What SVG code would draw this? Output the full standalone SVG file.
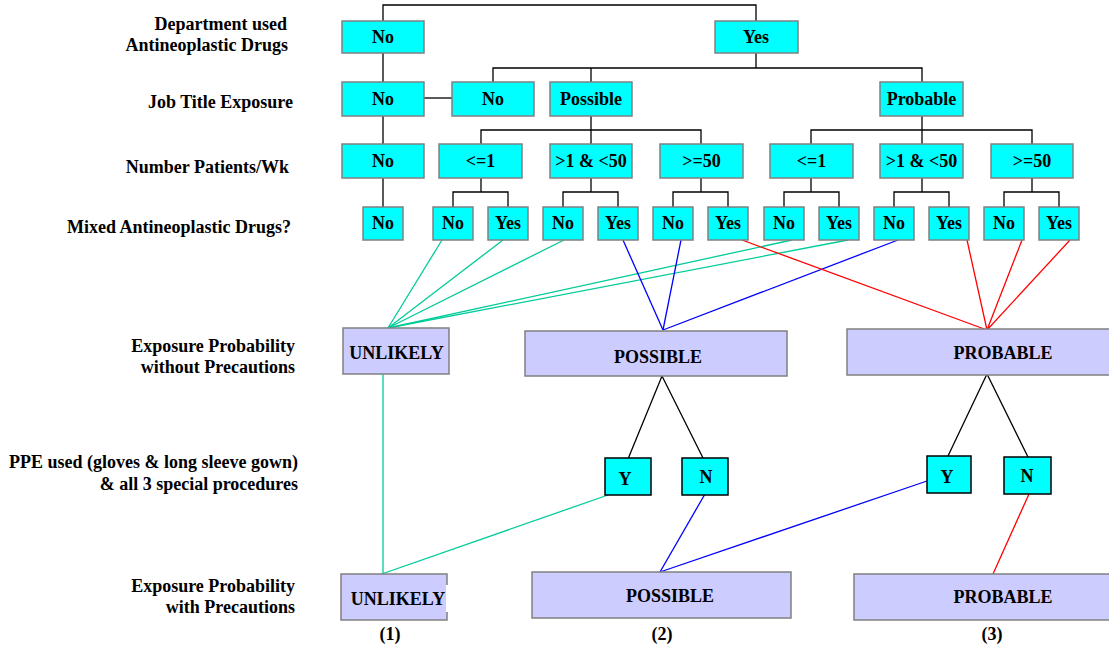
<svg xmlns="http://www.w3.org/2000/svg" width="1109" height="650" viewBox="0 0 1109 650">
<style>
text{font-family:"Liberation Serif","Times New Roman",serif;font-weight:bold;font-size:18px;fill:#000}
.lab{text-anchor:end}
.n text{text-anchor:middle}
.c{fill:#00FFFF;stroke:#808080;stroke-width:1.5}
.c2{fill:#00FFFF;stroke:#000;stroke-width:1.5}
.p{fill:#CCCCFF;stroke:#808080;stroke-width:1.5}
.k{stroke:#000;stroke-width:1.3;fill:none}
.g{stroke:#00CC99;stroke-width:1.3;fill:none}
.b{stroke:#0000FF;stroke-width:1.3;fill:none}
.r{stroke:#FF0000;stroke-width:1.3;fill:none}
</style>
<rect width="1109" height="650" fill="#fff"/>
<g id="labels">
<text class="lab" x="287" y="30">Department used</text>
<text class="lab" x="288" y="51">Antineoplastic Drugs</text>
<text class="lab" x="293" y="108">Job Title Exposure</text>
<text class="lab" x="289" y="173">Number Patients/Wk</text>
<text class="lab" x="291" y="233">Mixed Antineoplastic Drugs?</text>
<text class="lab" x="295" y="352">Exposure Probability</text>
<text class="lab" x="295" y="373">without Precautions</text>
<text class="lab" x="298" y="468">PPE used (gloves &amp; long sleeve gown)</text>
<text class="lab" x="298" y="490">&amp; all 3 special procedures</text>
<text class="lab" x="295" y="592">Exposure Probability</text>
<text class="lab" x="295" y="613">with Precautions</text>
</g>
<g id="connectors">
<polyline class="k" points="383,21 383,5 756,5 756,21"/>
<line class="k" x1="383" y1="53" x2="383" y2="82"/>
<line class="k" x1="383" y1="116" x2="383" y2="144"/>
<line class="k" x1="383" y1="178" x2="383" y2="207"/>
<line class="k" x1="424" y1="98" x2="452" y2="98"/>
<line class="k" x1="756" y1="53" x2="756" y2="68"/>
<polyline class="k" points="493,82 493,68 922,68 922,82"/>
<line class="k" x1="591" y1="68" x2="591" y2="82"/>
<line class="k" x1="591" y1="116" x2="591" y2="144"/>
<polyline class="k" points="481,144 481,130 701,130 701,144"/>
<line class="k" x1="922" y1="116" x2="922" y2="144"/>
<polyline class="k" points="811,144 811,130 1032,130 1032,144"/>
<line class="k" x1="481" y1="178" x2="481" y2="192"/>
<polyline class="k" points="453,207 453,192 508,192 508,207"/>
<line class="k" x1="591" y1="178" x2="591" y2="192"/>
<polyline class="k" points="563,207 563,192 618,192 618,207"/>
<line class="k" x1="701" y1="178" x2="701" y2="192"/>
<polyline class="k" points="673,207 673,192 728,192 728,207"/>
<line class="k" x1="811" y1="178" x2="811" y2="192"/>
<polyline class="k" points="784,207 784,192 839,192 839,207"/>
<line class="k" x1="922" y1="178" x2="922" y2="192"/>
<polyline class="k" points="894,207 894,192 949,192 949,207"/>
<line class="k" x1="1032" y1="178" x2="1032" y2="192"/>
<polyline class="k" points="1004,207 1004,192 1059,192 1059,207"/>
<line class="g" x1="442" y1="240" x2="388" y2="328"/>
<line class="g" x1="503" y1="240" x2="388" y2="328"/>
<line class="g" x1="564" y1="240" x2="388" y2="328"/>
<line class="g" x1="792" y1="240" x2="388" y2="328"/>
<line class="g" x1="848" y1="240" x2="388" y2="328"/>
<line class="b" x1="623" y1="240" x2="663" y2="330"/>
<line class="b" x1="681" y1="240" x2="663" y2="330"/>
<line class="b" x1="898" y1="240" x2="663" y2="330"/>
<line class="r" x1="742" y1="240" x2="987" y2="330"/>
<line class="r" x1="967" y1="240" x2="987" y2="330"/>
<line class="r" x1="1022" y1="240" x2="987" y2="330"/>
<line class="r" x1="1070" y1="240" x2="987" y2="330"/>
<polyline class="k" points="628,459 662,376 703,458"/>
<polyline class="k" points="948,456 987,374 1028,457"/>
<line class="g" x1="383" y1="374" x2="383" y2="576"/>
<line class="g" x1="608" y1="495" x2="376" y2="576"/>
<line class="b" x1="705" y1="494" x2="660" y2="572"/>
<line class="b" x1="927" y1="481" x2="660" y2="572"/>
<line class="r" x1="1029" y1="494" x2="993" y2="574"/>
</g>
<g class="n">
<g id="n-dept-no"><rect class="c" x="342" y="21" width="82" height="32"/><text x="383" y="43">No</text></g>
<g id="n-dept-yes"><rect class="c" x="715" y="21" width="83" height="32"/><text x="756" y="43">Yes</text></g>
<g id="n-job-no1"><rect class="c" x="342" y="82" width="82" height="34"/><text x="383" y="105">No</text></g>
<g id="n-job-no2"><rect class="c" x="452" y="82" width="82" height="34"/><text x="493" y="105">No</text></g>
<g id="n-job-possible"><rect class="c" x="550" y="82" width="82" height="34"/><text x="591" y="105">Possible</text></g>
<g id="n-job-probable"><rect class="c" x="880" y="82" width="83" height="34"/><text x="921.5" y="105">Probable</text></g>
<g id="n-pat-no"><rect class="c" x="342" y="144" width="82" height="34"/><text x="383" y="167">No</text></g>
<g id="n-pat-a1"><rect class="c" x="439" y="144" width="83" height="34"/><text x="480.5" y="167">&lt;=1</text></g>
<g id="n-pat-a2"><rect class="c" x="550" y="144" width="82" height="34"/><text x="591" y="167">&gt;1 &amp; &lt;50</text></g>
<g id="n-pat-a3"><rect class="c" x="660" y="144" width="83" height="34"/><text x="701.5" y="167">&gt;=50</text></g>
<g id="n-pat-b1"><rect class="c" x="770" y="144" width="83" height="34"/><text x="811.5" y="167">&lt;=1</text></g>
<g id="n-pat-b2"><rect class="c" x="880" y="144" width="83" height="34"/><text x="921.5" y="167">&gt;1 &amp; &lt;50</text></g>
<g id="n-pat-b3"><rect class="c" x="991" y="144" width="82" height="34"/><text x="1032" y="167">&gt;=50</text></g>
<g id="n-mix-0"><rect class="c" x="363" y="207" width="40" height="33"/><text x="383" y="229">No</text></g>
<g id="n-mix-1"><rect class="c" x="433" y="207" width="40" height="33"/><text x="453" y="229">No</text></g>
<g id="n-mix-2"><rect class="c" x="488" y="207" width="40" height="33"/><text x="508" y="229">Yes</text></g>
<g id="n-mix-3"><rect class="c" x="543" y="207" width="40" height="33"/><text x="563" y="229">No</text></g>
<g id="n-mix-4"><rect class="c" x="598" y="207" width="40" height="33"/><text x="618" y="229">Yes</text></g>
<g id="n-mix-5"><rect class="c" x="653" y="207" width="40" height="33"/><text x="673" y="229">No</text></g>
<g id="n-mix-6"><rect class="c" x="708" y="207" width="40" height="33"/><text x="728" y="229">Yes</text></g>
<g id="n-mix-7"><rect class="c" x="764" y="207" width="40" height="33"/><text x="784" y="229">No</text></g>
<g id="n-mix-8"><rect class="c" x="819" y="207" width="40" height="33"/><text x="839" y="229">Yes</text></g>
<g id="n-mix-9"><rect class="c" x="874" y="207" width="40" height="33"/><text x="894" y="229">No</text></g>
<g id="n-mix-10"><rect class="c" x="929" y="207" width="40" height="33"/><text x="949" y="229">Yes</text></g>
<g id="n-mix-11"><rect class="c" x="984" y="207" width="40" height="33"/><text x="1004" y="229">No</text></g>
<g id="n-mix-12"><rect class="c" x="1039" y="207" width="40" height="33"/><text x="1059" y="229">Yes</text></g>
<g id="n-wo-unlikely"><rect class="p" x="343" y="328" width="106" height="46"/><text x="396.5" y="359">UNLIKELY</text></g>
<g id="n-wo-possible"><rect class="p" x="525" y="331" width="262" height="45"/><text x="658" y="363">POSSIBLE</text></g>
<g id="n-wo-probable"><rect class="p" x="847" y="329" width="265" height="46"/><text x="1003" y="359">PROBABLE</text></g>
<g id="n-ppe-y1"><rect class="c2" x="605" y="458" width="46" height="37"/><text x="625" y="485">Y</text></g>
<g id="n-ppe-n1"><rect class="c2" x="682" y="458" width="46" height="37"/><text x="706" y="483">N</text></g>
<g id="n-ppe-y2"><rect class="c2" x="927" y="456" width="44" height="37"/><text x="947" y="483">Y</text></g>
<g id="n-ppe-n2"><rect class="c2" x="1004" y="457" width="47" height="37"/><text x="1027" y="482">N</text></g>
<g id="n-w-unlikely"><rect class="p" x="341" y="574" width="106" height="46"/><rect x="446" y="585" width="4" height="27" fill="#fff"/><text x="398" y="605">UNLIKELY</text></g>
<g id="n-w-possible"><rect class="p" x="532" y="572" width="259" height="46"/><text x="670" y="602">POSSIBLE</text></g>
<g id="n-w-probable"><rect class="p" x="854" y="574" width="258" height="46"/><text x="1003" y="603">PROBABLE</text></g>
</g>
<g id="footer" class="n">
<text x="390" y="640" font-size="16">(1)</text>
<text x="662" y="640" font-size="16">(2)</text>
<text x="992" y="640" font-size="16">(3)</text>
</g>
</svg>
